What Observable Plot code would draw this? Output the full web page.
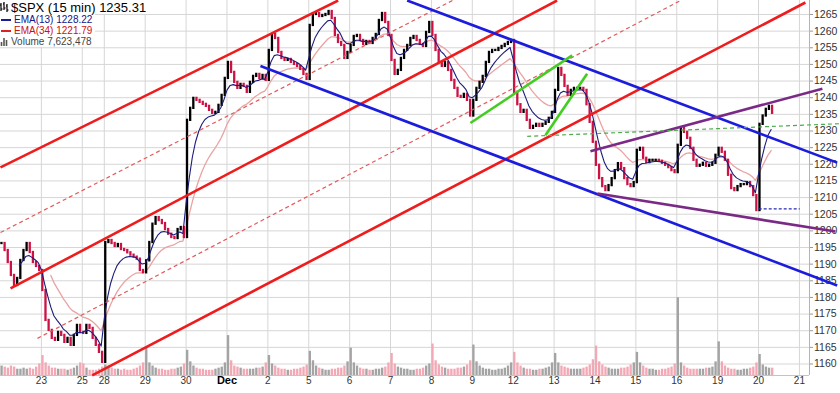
<!DOCTYPE html>
<html><head><meta charset="utf-8">
<script src="https://cdn.jsdelivr.net/npm/d3@7"></script>
<script src="https://cdn.jsdelivr.net/npm/@observablehq/plot@0.6"></script>
<style>
body{margin:0;background:#fff;}
#wrap{position:relative;width:840px;height:393px;overflow:hidden;font-family:'Liberation Sans',Arial,sans-serif;}
#wrap svg.layer{position:absolute;left:0;top:0;}
#legend{position:absolute;left:0;top:0;line-height:1;}
#legend .row{display:flex;align-items:center;background:#fff;width:max-content;white-space:nowrap;}
#legend .r1{font-size:13px;color:#000;height:14px;padding-right:2px;}
#legend .r2,#legend .r3,#legend .r4{font-size:10px;height:11px;padding-right:3px;}
#legend svg{margin-right:2px;}
</style></head><body><div id="wrap"></div><script>
// ---------------- data ----------------
const sessionLabels = ["22","23","25","28","29","30","Dec","2","5","6","7","8","9","12","13","14","15","16","19","20"];
const sessionStart = [0,26,52,66,92,118,144,170,196,222,248,274,300,326,352,378,404,430,456,482];
const axisLabels = ["23","25","28","29","30","Dec","2","5","6","7","8","9","12","13","14","15","16","19","20","21"];
const axisIdx = [26,52,66,92,118,144,170,196,222,248,274,300,326,352,378,404,430,456,482,508];
const yTicks = [1160,1165,1170,1175,1180,1185,1190,1195,1200,1205,1210,1215,1220,1225,1230,1235,1240,1245,1250,1255,1260,1265];
const yDomain = [1156.55, 1269.2];
const xDomain = [0, 514.4];

// closes sampled every two 15-min bars, one array per session
const closes = [
  [1196.2,1194.1,1190.5,1186.6,1183.6,1185.7,1191.1,1194.1,1196.2,1193.5,1190.5,1189.3,1188.1],
  [1182.1,1173.1,1170.1,1167.7,1167.1,1169.5,1168.6,1166.5,1167.7,1165.6,1168.6,1171.6,1169.5],
  [1169.2,1171.6,1170.7,1167.7,1165.6,1163.5,1160.5],
  [1196.5,1197.1,1196.2,1195.3,1195.9,1194.4,1194.1,1193.4,1192.7,1192.1,1191.5,1188.1,1187.4],
  [1191.0,1196.5,1202.0,1204.0,1203.1,1202.2,1200.4,1199.0,1198.0,1197.7,1200.4,1201.0,1198.0],
  [1233.2,1236.8,1239.8,1239.2,1238.6,1238.0,1237.4,1236.2,1235.3,1235.6,1237.7,1240.7,1245.8],
  [1250.6,1247.6,1244.6,1242.8,1244.0,1243.4,1241.6,1244.6,1246.4,1247.0,1245.8,1246.7,1245.2],
  [1254.2,1259.0,1257.8,1253.6,1251.8,1251.2,1251.5,1250.6,1250.0,1249.4,1248.5,1247.0,1245.5],
  [1261.7,1265.0,1265.3,1264.4,1264.7,1265.0,1265.9,1263.8,1258.7,1256.6,1255.7,1251.8,1253.6],
  [1255.7,1258.4,1258.7,1257.2,1256.0,1256.9,1256.3,1257.8,1259.0,1263.2,1265.3,1262.6,1258.7],
  [1251.2,1247.0,1248.2,1251.8,1254.2,1255.7,1257.8,1258.4,1257.2,1256.0,1255.4,1259.6,1262.6],
  [1258.7,1254.2,1250.6,1249.4,1250.6,1248.2,1245.2,1242.8,1240.4,1240.1,1241.0,1239.2,1234.5],
  [1239.2,1242.8,1244.6,1246.4,1250.6,1253.6,1254.2,1254.2,1254.8,1255.4,1256.0,1256.6,1257.2],
  [1241.6,1237.9,1235.6,1236.2,1233.2,1230.8,1231.4,1232.0,1231.4,1232.0,1232.6,1233.8,1235.6],
  [1242.2,1248.8,1246.7,1243.4,1240.7,1242.2,1242.8,1242.8,1242.8,1242.2,1237.9,1232.6,1226.6],
  [1219.7,1215.7,1213.3,1212.1,1213.6,1215.7,1218.1,1220.2,1218.7,1215.7,1213.9,1213.3,1214.5],
  [1224.2,1224.8,1221.8,1220.5,1221.2,1221.2,1221.2,1220.9,1220.3,1219.7,1219.0,1218.1,1217.5],
  [1225.7,1230.8,1229.6,1227.8,1224.8,1221.2,1219.4,1219.7,1220.3,1219.4,1219.7,1220.3,1222.7],
  [1224.8,1223.6,1221.2,1216.7,1212.7,1212.1,1213.3,1213.9,1213.9,1214.5,1213.3,1210.6,1206.1],
  [1232.0,1234.5,1236.5,1237.4,1235.31]
];
// volume per 15-min bar (millions), same sampling
const volumes = [
  [9,8,7,9,8,6,6,7,6,7,6,8,11],
  [19,12,9,7,7,6,6,6,5,6,7,9,12],
  [11,7,5,5,5,6,8],
  [10,9,7,6,6,5,6,5,5,6,7,9,12],
  [26,12,9,7,6,6,5,5,6,6,7,8,11],
  [24,13,9,7,6,6,5,5,5,6,7,8,12],
  [38,14,9,8,7,6,6,6,6,7,7,8,12],
  [19,11,9,7,6,6,5,5,6,6,7,8,10],
  [23,14,9,7,6,5,5,6,6,7,7,9,13],
  [26,12,9,7,6,6,5,5,6,6,7,8,12],
  [21,11,8,7,6,6,5,5,6,6,7,9,11],
  [30,14,10,8,7,6,6,6,7,7,8,10,14],
  [29,13,9,7,6,6,5,5,6,6,7,9,12],
  [22,12,9,7,6,6,5,5,6,6,7,8,12],
  [21,12,9,8,7,6,6,6,6,7,8,10,15],
  [28,13,10,8,7,6,6,6,7,7,8,10,12],
  [22,12,9,7,6,6,5,5,6,6,7,8,11],
  [74,12,9,7,6,6,6,6,6,7,7,8,13],
  [32,13,9,7,6,6,5,5,6,6,7,8,12],
  [20,10,8,7,7]
];
const volDomain = [0, 357];

// hand-drawn trend lines: [barIndex1, price1, barIndex2, price2]
const redSolid = [[0,1219.05,214.7,1269.2],[6.36,1182.7,353.9,1269.2],[58.3,1156.6,511.8,1268.6]];
const redDashed = [[0,1199.5,287.4,1269.2],[23.5,1167.7,432.4,1269.2]];
const blueLines = [[258.6,1269.2,532.0,1220.5],[165.3,1249.5,532.0,1183.6]];
const purpleLines = [[375.1,1223.9,522.6,1242.7],[379.6,1211.2,530.9,1199.8]];
const greenLines = [[298.8,1232.4,363.5,1252.7],[346.5,1228.7,373.0,1247.2]];
const greenDashed = [[334.9,1228.4,534.1,1232.2]];
const blueDotted = [[482.1,1206.6,508.2,1206.6]];

const legendLabels = ["$SPX (15 min)","EMA(13)","EMA(34)","Volume"];
const legendValues = ["1235.31","1228.22","1221.79","7,623,478"];
const emaPeriods = [13, 34];

// ---------------- build ----------------
const W = 840, H = 393;
const M = {marginLeft: 0, marginRight: 31, marginTop: 0, marginBottom: 18};
const FONT = "'Liberation Sans', Arial, sans-serif";

const pts = [];
closes.forEach((day, d) => day.forEach((c, j) => pts.push({idx: sessionStart[d] + 2 * j, close: c, vol: volumes[d][j]})));
pts.forEach((p, k) => { p.prev = k ? pts[k - 1].close : p.close; p.up = p.close >= p.prev; });

function ema(n) {
  const a = 1 - Math.pow(1 - 2 / (n + 1), 2); // two bars per sample
  const m = Math.ceil(n / 2);
  const out = [];
  let e = d3.mean(pts.slice(0, m), d => d.close);
  for (let k = m - 1; k < pts.length; k++) {
    if (k > m - 1) e = a * pts[k].close + (1 - a) * e;
    out.push({idx: pts[k].idx, v: e});
  }
  return out;
}
const ema13 = ema(emaPeriods[0]);
const ema34 = ema(emaPeriods[1]);

const xLab = axisLabels.map((l, i) => ({label: l, idx: axisIdx[i]}));

const seg = (data, o) => Plot.link(data, {x1: d => d[0], y1: d => d[1], x2: d => d[2], y2: d => d[3], ...o});

const base = Plot.plot({
  width: W, height: H, ...M,
  x: {domain: xDomain, axis: null},
  y: {domain: yDomain},
  style: {background: "#fff", fontFamily: FONT, overflow: "visible"},
  marks: [
    Plot.gridY(yTicks, {stroke: "#d6d6d6", strokeOpacity: 1}),
    Plot.gridX(axisIdx, {stroke: "#d6d6d6", strokeOpacity: 1}),
    Plot.ruleY([yDomain[0]], {stroke: "#c4c4c4"}),
    Plot.ruleX([xDomain[1]], {stroke: "#b4b4b4"}),
    Plot.axisY(yTicks, {anchor: "right", tickSize: 3, tickPadding: 1.5, stroke: "#999", fill: "#333", fontSize: 10.5, label: null, tickFormat: d => String(d)}),
    Plot.text(xLab.filter(d => d.label !== "Dec"), {x: "idx", text: "label", frameAnchor: "bottom", dy: 8.5, fontSize: 10, fill: "#333"}),
    Plot.text(xLab.filter(d => d.label === "Dec"), {x: "idx", text: "label", frameAnchor: "bottom", dy: 8.5, fontSize: 11, fontWeight: "bold", fill: "#000"})
  ]
});

const vol = Plot.plot({
  width: W, height: H, ...M,
  x: {domain: xDomain, axis: null},
  y: {domain: volDomain, axis: null},
  style: {background: "transparent"},
  marks: [
    Plot.rect(pts.filter(d => d.up), {x1: "idx", x2: d => d.idx + 2, y1: () => 0, y2: "vol", fill: "#a4a4a4", insetLeft: 0.4, insetRight: 0.4}),
    Plot.rect(pts.filter(d => !d.up), {x1: "idx", x2: d => d.idx + 2, y1: () => 0, y2: "vol", fill: "#f3a9b5", insetLeft: 0.4, insetRight: 0.4})
  ]
});

const price = Plot.plot({
  width: W, height: H, ...M,
  x: {domain: xDomain, axis: null},
  y: {domain: yDomain, axis: null},
  style: {background: "transparent", overflow: "visible"},
  marks: [
    Plot.line(ema34, {x: "idx", y: "v", stroke: "#e9a3a3", strokeWidth: 1.3}),
    Plot.ruleX(pts.filter(d => d.up), {x: d => d.idx + 0.6, y1: "prev", y2: "close", stroke: "#000", strokeWidth: 2.3, strokeLinecap: "square"}),
    Plot.ruleX(pts.filter(d => !d.up), {x: d => d.idx + 0.6, y1: "prev", y2: "close", stroke: "#cc1144", strokeWidth: 2.3, strokeLinecap: "square"}),
    Plot.line(ema13, {x: "idx", y: "v", stroke: "#1b1b7a", strokeWidth: 1.1}),
    seg(redDashed, {stroke: "#e35a5a", strokeWidth: 1.2, strokeDasharray: "4,3"}),
    seg(redSolid, {stroke: "#ee1c1c", strokeWidth: 2.6}),
    seg(blueLines, {stroke: "#1c1cdc", strokeWidth: 2.6}),
    seg(purpleLines, {stroke: "#7a2a86", strokeWidth: 2.6}),
    seg(greenDashed, {stroke: "#4cab4c", strokeWidth: 1.2, strokeDasharray: "4,3"}),
    seg(greenLines, {stroke: "#44cc22", strokeWidth: 2.6}),
    seg(blueDotted, {stroke: "#2a2ab8", strokeWidth: 1.2, strokeDasharray: "3,2"})
  ]
});

const wrap = document.getElementById("wrap");
[base, vol, price].forEach(s => { s.classList.add("layer"); wrap.appendChild(s); });

// legend
const icons = [
  '<svg width="9" height="10"><path d="M1 1V9M1 3H0M1 7H2.5M4 0V8M4 2H3M4 6H5.5M7 2V10M7 4H6M7 8H8.5" stroke="#000" stroke-width="1.2" fill="none"/></svg>',
  '<svg width="12" height="4"><line x1="1" y1="2" x2="11" y2="2" stroke="#1b1b9a" stroke-width="2"/></svg>',
  '<svg width="12" height="4"><line x1="1" y1="2" x2="11" y2="2" stroke="#dd2222" stroke-width="2"/></svg>',
  '<svg width="9" height="9"><path d="M1.5 9V5M4 9V1M6.5 9V3" stroke="#555" stroke-width="1.6"/></svg>'
];
const colors = ["#000", "#14148c", "#cc1111", "#444"];
const legend = document.createElement("div");
legend.id = "legend";
legendLabels.forEach((l, i) => {
  const r = document.createElement("div");
  r.className = "row r" + (i + 1);
  r.style.color = colors[i];
  r.innerHTML = icons[i] + "<span>" + l + " " + legendValues[i] + "</span>";
  legend.appendChild(r);
});
wrap.appendChild(legend);
</script></body></html>
